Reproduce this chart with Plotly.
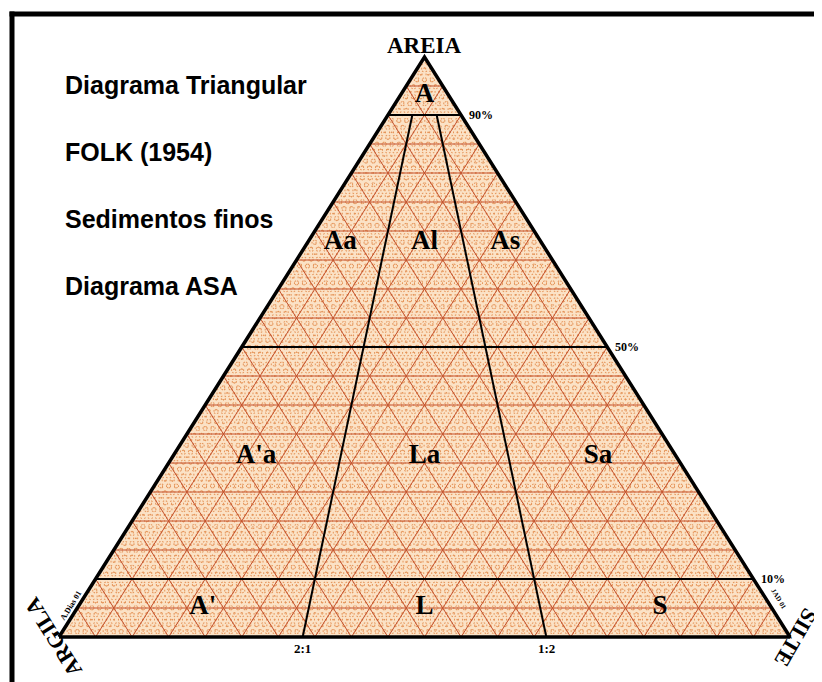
import plotly.graph_objects as go

# composition data (percent)
grid_fine = list(range(1, 100))
grid_major = list(range(5, 100, 5))
sand_limits = [10, 50, 90]
ratio_lines = [1 / 3, 2 / 3]          # silt / (silt + clay): 2:1 and 1:2
ratio_names = ['2:1', '1:2']

region_names = ['A', 'Aa', 'Al', 'As', "A'a", 'La', 'Sa', "A'", 'L', 'S']
region_sand = [93.4, 68, 68, 68, 31.2, 31.2, 31.2, 5.2, 5.2, 5.2]
region_ratio = [0.5, 0.14, 0.5, 0.845, 0.165, 0.5, 0.845, 0.18, 0.5, 0.84]

title_lines = ['Diagrama Triangular', 'FOLK (1954)', 'Sedimentos finos', 'Diagrama ASA']

# the page adds an 8px body margin
W, H = 814, 674
X0, Y0, TW, TH = 51, 629, 731, 580   # triangle base-left corner and size, px


def to_xy(sand, silt):
    # sand at apex, clay bottom-left, silt bottom-right
    return silt + sand / 2, sand


def family(levels, kind):
    xs, ys = [], []
    for p in levels:
        k = p / 100
        if kind == 'sand':
            a, b = to_xy(k, 0), to_xy(k, 1 - k)
        elif kind == 'silt':
            a, b = to_xy(0, k), to_xy(1 - k, k)
        else:
            a, b = to_xy(0, 1 - k), to_xy(1 - k, 0)
        xs += [a[0], b[0], None]
        ys += [a[1], b[1], None]
    return xs, ys


fig = go.Figure()

corners = [to_xy(0, 0), to_xy(0, 1), to_xy(1, 0), to_xy(0, 0)]
fig.add_trace(go.Scatter(x=[c[0] for c in corners], y=[c[1] for c in corners],
                         fill='toself', fillcolor='#fbe2c6', mode='none',
                         hoverinfo='skip'))

for kind in ['sand', 'silt', 'clay']:
    xs, ys = family(grid_fine, kind)
    fig.add_trace(go.Scatter(x=xs, y=ys, mode='lines',
                             line=dict(color='#e5955a', width=1.7, dash='1px,3px'),
                             hoverinfo='skip'))
for kind in ['sand', 'silt', 'clay']:
    xs, ys = family(grid_major, kind)
    fig.add_trace(go.Scatter(x=xs, y=ys, mode='lines',
                             line=dict(color='#c4532f', width=1),
                             hoverinfo='skip'))

# class boundaries
xs, ys = family(sand_limits, 'sand')
for r in ratio_lines:
    a = to_xy(0, r)
    b = to_xy(0.9, 0.1 * r)
    xs += [a[0], b[0], None]
    ys += [a[1], b[1], None]
fig.add_trace(go.Scatter(x=xs, y=ys, mode='lines',
                         line=dict(color='black', width=2), hoverinfo='skip'))

fig.add_trace(go.Scatter(x=[c[0] for c in corners], y=[c[1] for c in corners],
                         mode='lines', line=dict(color='black', width=3.5),
                         hoverinfo='skip'))

rx, ry = [], []
for s, r in zip(region_sand, region_ratio):
    p = to_xy(s / 100, (1 - s / 100) * r)
    rx.append(p[0])
    ry.append(p[1])
fig.add_trace(go.Scatter(x=rx, y=ry, mode='text', text=region_names,
                         textfont=dict(family='Liberation Serif', size=27,
                                       color='black', weight='bold'),
                         hoverinfo='skip'))

serif = dict(family='Liberation Serif', color='black', weight='bold')
ann = []
apex = to_xy(1, 0)
ann.append(dict(x=apex[0], y=apex[1], text='AREIA', yshift=12,
                font=dict(size=23, **serif)))
for p in sand_limits:
    e = to_xy(p / 100, 1 - p / 100)
    ann.append(dict(x=e[0], y=e[1], text=f'{p}%', xanchor='left', xshift=6,
                    font=dict(size=12, **serif)))
for r, name in zip(ratio_lines, ratio_names):
    ann.append(dict(x=r, y=0, text=name, yshift=-11, font=dict(size=13, **serif)))
ann.append(dict(x=-0.009, y=0.0, text='ARGILA', textangle=-122,
                font=dict(size=22, **serif)))
ann.append(dict(x=1.008, y=-0.002, text='SILTE', textangle=120,
                font=dict(size=22, **serif)))
ann.append(dict(x=0.016, y=0.055, text='A.Dias 01', textangle=-58,
                font=dict(size=8, **serif)))
ann.append(dict(x=0.984, y=0.065, text='JAD 01', textangle=58,
                font=dict(size=7, **serif)))
for i, t in enumerate(title_lines):
    ann.append(dict(xref='paper', yref='paper', x=55 / W, y=1 - (77 + 67 * i) / H,
                    text=t, xanchor='left', yanchor='middle',
                    font=dict(family='Liberation Sans', size=25, color='black',
                              weight='bold')))
for a in ann:
    a.setdefault('xref', 'x')
    a.setdefault('yref', 'y')
    a['showarrow'] = False

fig.update_layout(
    width=W, height=H,
    margin=dict(l=0, r=0, t=0, b=0),
    paper_bgcolor='white', plot_bgcolor='white',
    showlegend=False,
    annotations=ann,
    xaxis=dict(range=[-X0 / TW, (W - X0) / TW], visible=False, fixedrange=True),
    yaxis=dict(range=[-(H - Y0) / TH, Y0 / TH], visible=False, fixedrange=True),
    shapes=[
        dict(type='line', xref='paper', yref='paper', x0=1.5 / W, x1=1,
             y0=1 - 6 / H, y1=1 - 6 / H, line=dict(color='black', width=5)),
        dict(type='line', xref='paper', yref='paper', x0=4 / W, x1=4 / W,
             y0=0, y1=1 - 3.5 / H, line=dict(color='black', width=5)),
    ],
)

fig.write_html('out.html')
